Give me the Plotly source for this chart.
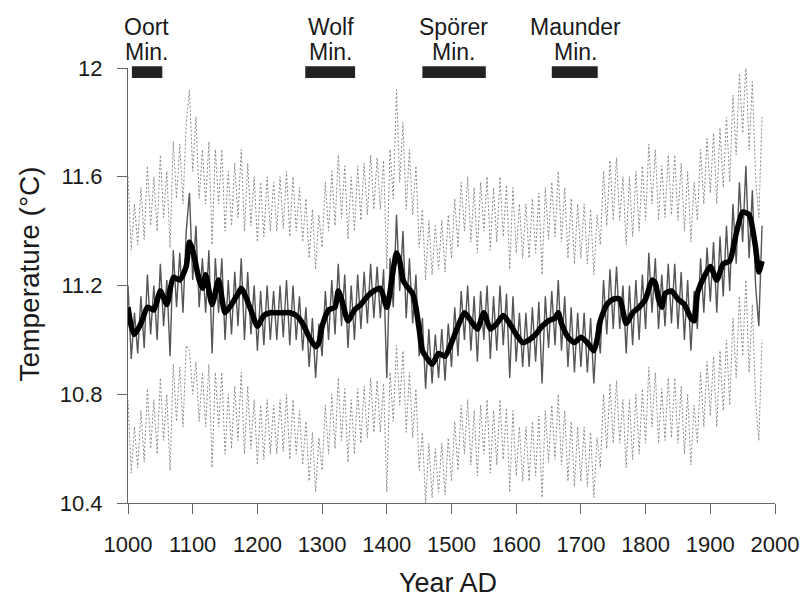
import plotly.graph_objects as go

# ---------------- data ----------------
# smoothed reconstruction (thick black line)
smooth_years = [1000, 1005, 1010, 1020, 1030, 1040, 1050, 1060, 1070, 1080, 1090, 1095,
                1100, 1110, 1115, 1120, 1130, 1140, 1150, 1160, 1170, 1175, 1180, 1190,
                1200, 1210, 1220, 1230, 1240, 1250, 1260, 1270, 1280, 1290, 1295,
                1300, 1310, 1320, 1325, 1330, 1340, 1350, 1360, 1370, 1380, 1390,
                1400, 1410, 1415, 1420, 1425, 1430, 1440, 1445, 1450, 1455, 1460, 1470, 1480, 1490,
                1500, 1510, 1520, 1530, 1540, 1550, 1560, 1570, 1580, 1590,
                1600, 1610, 1620, 1630, 1640, 1650, 1660, 1665, 1670, 1680, 1690,
                1700, 1710, 1720, 1725, 1730, 1740, 1750, 1760, 1770, 1780, 1790,
                1800, 1810, 1815, 1820, 1825, 1830, 1840, 1850, 1860, 1870, 1875, 1880, 1890,
                1900, 1910, 1920, 1930, 1940, 1950, 1960, 1970, 1975, 1980]
smooth_temp = [11.12, 11.05, 11.02, 11.06, 11.12, 11.11, 11.18, 11.13, 11.23, 11.22, 11.27, 11.36,
               11.33, 11.22, 11.19, 11.24, 11.13, 11.22, 11.10, 11.13, 11.17, 11.19, 11.17, 11.11,
               11.05, 11.09, 11.10, 11.10, 11.10, 11.10, 11.09, 11.06, 11.01, 10.975, 10.99,
               11.05, 11.11, 11.12, 11.18, 11.15, 11.07, 11.11, 11.13, 11.16, 11.18, 11.19,
               11.12, 11.26, 11.32, 11.29, 11.22, 11.20, 11.17, 11.12, 11.04, 10.96, 10.94, 10.91, 10.95, 10.94,
               10.99, 11.05, 11.10, 11.07, 11.04, 11.10, 11.04, 11.06, 11.09, 11.06,
               11.02, 10.99, 11.00, 11.02, 11.05, 11.07, 11.08, 11.10, 11.06, 11.01, 10.99,
               11.01, 10.99, 10.96, 11.00, 11.07, 11.13, 11.15, 11.15, 11.06, 11.10, 11.12,
               11.15, 11.22, 11.21, 11.15, 11.12, 11.17, 11.18, 11.15, 11.13, 11.08, 11.07, 11.17, 11.23,
               11.27, 11.22, 11.28, 11.29, 11.39, 11.47, 11.46, 11.34, 11.25, 11.29]

# high-frequency reconstruction (thin grey line) and its confidence bounds (dotted)
annual_years = list(range(1000, 1981, 5))
annual_temp = [
    11.20, 10.93, 11.10, 10.95, 11.16, 10.97, 11.24, 11.02, 11.20, 11.00,
    11.28, 11.05, 11.22, 10.94, 11.33, 11.12, 11.32, 11.10, 11.40, 11.54,
    11.22, 11.42, 11.12, 11.30, 11.10, 11.33, 10.95, 11.30, 11.10, 11.30,
    11.00, 11.22, 11.02, 11.25, 11.05, 11.30, 11.00, 11.25, 11.02, 11.20,
    10.96, 11.18, 10.98, 11.20, 11.00, 11.18, 11.00, 11.20, 11.01, 11.22,
    10.98, 11.20, 11.00, 11.16, 10.96, 11.12, 10.90, 11.08, 10.86, 11.06,
    10.94, 11.18, 11.00, 11.22, 11.02, 11.28, 11.05, 11.24, 10.97, 11.20,
    11.00, 11.24, 11.04, 11.25, 11.06, 11.28, 11.08, 11.27, 11.08, 11.26,
    10.86, 11.30, 11.12, 11.46, 11.18, 11.40, 11.08, 11.30, 11.06, 11.24,
    10.94, 11.08, 10.82, 11.04, 10.84, 11.02, 10.86, 11.04, 10.85, 11.06,
    10.90, 11.12, 10.94, 11.18, 11.00, 11.20, 10.96, 11.16, 10.92, 11.18,
    11.00, 11.20, 10.93, 11.16, 10.96, 11.20, 10.98, 11.17, 10.86, 11.16,
    10.92, 11.10, 10.90, 11.10, 10.90, 11.12, 10.92, 11.14, 10.84, 11.16,
    10.97, 11.18, 10.98, 11.22, 10.96, 11.16, 10.90, 11.12, 10.88, 11.10,
    10.90, 11.10, 10.88, 11.08, 10.84, 11.06, 10.95, 11.22, 11.02, 11.26,
    11.04, 11.27, 11.04, 11.20, 10.95, 11.20, 10.98, 11.22, 11.00, 11.24,
    11.04, 11.32, 11.10, 11.30, 11.04, 11.24, 11.05, 11.28, 11.06, 11.28,
    11.04, 11.25, 11.00, 11.22, 10.96, 11.18, 11.04, 11.30, 11.10, 11.34,
    11.14, 11.36, 11.10, 11.38, 11.16, 11.42, 11.18, 11.50, 11.28, 11.58,
    11.36, 11.64, 11.30, 11.55, 11.20, 11.05, 11.42]
upper_temp = [
    11.60, 11.33, 11.50, 11.35, 11.56, 11.37, 11.64, 11.42, 11.60, 11.40,
    11.68, 11.45, 11.62, 11.34, 11.73, 11.52, 11.72, 11.50, 11.80, 11.92,
    11.62, 11.82, 11.52, 11.70, 11.50, 11.73, 11.35, 11.70, 11.50, 11.70,
    11.40, 11.62, 11.42, 11.65, 11.45, 11.70, 11.40, 11.65, 11.42, 11.60,
    11.36, 11.58, 11.38, 11.60, 11.40, 11.58, 11.40, 11.60, 11.41, 11.62,
    11.38, 11.60, 11.40, 11.56, 11.36, 11.52, 11.30, 11.48, 11.26, 11.46,
    11.34, 11.58, 11.40, 11.62, 11.42, 11.68, 11.45, 11.64, 11.37, 11.60,
    11.40, 11.64, 11.44, 11.65, 11.46, 11.68, 11.48, 11.67, 11.48, 11.66,
    11.26, 11.70, 11.52, 11.92, 11.58, 11.80, 11.48, 11.70, 11.46, 11.64,
    11.34, 11.48, 11.22, 11.44, 11.24, 11.42, 11.26, 11.44, 11.25, 11.46,
    11.30, 11.52, 11.34, 11.58, 11.40, 11.60, 11.36, 11.56, 11.32, 11.58,
    11.40, 11.60, 11.33, 11.56, 11.36, 11.60, 11.38, 11.57, 11.26, 11.56,
    11.32, 11.50, 11.30, 11.50, 11.30, 11.52, 11.32, 11.54, 11.24, 11.56,
    11.37, 11.58, 11.38, 11.62, 11.36, 11.56, 11.30, 11.52, 11.28, 11.50,
    11.30, 11.50, 11.28, 11.48, 11.24, 11.46, 11.35, 11.62, 11.42, 11.66,
    11.44, 11.67, 11.44, 11.60, 11.35, 11.60, 11.38, 11.62, 11.40, 11.64,
    11.44, 11.72, 11.50, 11.70, 11.44, 11.64, 11.45, 11.68, 11.46, 11.68,
    11.44, 11.65, 11.40, 11.62, 11.36, 11.58, 11.44, 11.70, 11.50, 11.74,
    11.54, 11.76, 11.50, 11.78, 11.56, 11.82, 11.58, 11.90, 11.68, 11.98,
    11.76, 12.02, 11.70, 11.95, 11.60, 11.45, 11.82]
lower_temp = [
    10.78, 10.51, 10.68, 10.53, 10.74, 10.55, 10.82, 10.60, 10.78, 10.58,
    10.86, 10.63, 10.80, 10.52, 10.91, 10.70, 10.90, 10.68, 10.98, 10.96,
    10.80, 10.92, 10.70, 10.88, 10.68, 10.91, 10.53, 10.88, 10.68, 10.88,
    10.58, 10.80, 10.60, 10.83, 10.63, 10.88, 10.58, 10.83, 10.60, 10.78,
    10.54, 10.76, 10.56, 10.78, 10.58, 10.76, 10.58, 10.78, 10.59, 10.80,
    10.56, 10.78, 10.58, 10.74, 10.54, 10.70, 10.48, 10.66, 10.44, 10.64,
    10.52, 10.76, 10.58, 10.80, 10.60, 10.86, 10.63, 10.82, 10.55, 10.78,
    10.58, 10.82, 10.62, 10.83, 10.64, 10.86, 10.66, 10.85, 10.66, 10.84,
    10.44, 10.88, 10.70, 10.98, 10.76, 10.96, 10.66, 10.88, 10.64, 10.82,
    10.52, 10.66, 10.40, 10.62, 10.42, 10.60, 10.44, 10.62, 10.43, 10.64,
    10.48, 10.70, 10.52, 10.76, 10.58, 10.78, 10.54, 10.74, 10.50, 10.76,
    10.58, 10.78, 10.51, 10.74, 10.54, 10.78, 10.56, 10.75, 10.44, 10.74,
    10.50, 10.68, 10.48, 10.68, 10.48, 10.70, 10.50, 10.72, 10.42, 10.74,
    10.55, 10.76, 10.56, 10.80, 10.54, 10.74, 10.48, 10.70, 10.46, 10.68,
    10.48, 10.68, 10.46, 10.66, 10.42, 10.64, 10.53, 10.80, 10.60, 10.84,
    10.62, 10.85, 10.62, 10.78, 10.53, 10.78, 10.56, 10.80, 10.58, 10.82,
    10.62, 10.90, 10.68, 10.88, 10.62, 10.82, 10.63, 10.86, 10.64, 10.86,
    10.62, 10.83, 10.58, 10.80, 10.54, 10.76, 10.62, 10.88, 10.68, 10.92,
    10.72, 10.94, 10.68, 10.96, 10.74, 11.00, 10.76, 11.08, 10.86, 11.16,
    10.94, 11.22, 10.88, 11.13, 10.78, 10.63, 11.00]

# solar minima (bars at the top)
minima_names = ["Oort", "Wolf", "Spörer", "Maunder"]
minima_start = [1006, 1274, 1455, 1655]
minima_end = [1053, 1351, 1553, 1726]
minima_label_x = [1029, 1313, 1503, 1692]

x_ticks = [1000, 1100, 1200, 1300, 1400, 1500, 1600, 1700, 1800, 1900, 2000]
y_ticks = [10.4, 10.8, 11.2, 11.6, 12.0]
y_tick_text = ["10.4", "10.8", "11.2", "11.6", "12"]

# ---------------- figure ----------------
FONT = "Liberation Sans, Arial, Helvetica, sans-serif"
fig = go.Figure()

fig.add_trace(go.Scatter(x=annual_years, y=upper_temp, mode="lines",
                         line=dict(color="#8a8a8a", width=1, dash="2px,2px"),
                         hoverinfo="skip", showlegend=False))
fig.add_trace(go.Scatter(x=annual_years, y=lower_temp, mode="lines",
                         line=dict(color="#8a8a8a", width=1, dash="2px,2px"),
                         hoverinfo="skip", showlegend=False))
fig.add_trace(go.Scatter(x=annual_years, y=annual_temp, mode="lines",
                         line=dict(color="#555555", width=1.4),
                         showlegend=False))
fig.add_trace(go.Scatter(x=smooth_years, y=smooth_temp, mode="lines",
                         line=dict(color="#000000", width=5.5, shape="spline", smoothing=0.6),
                         showlegend=False))

shapes = []
annotations = []
for name, s, e, lx in zip(minima_names, minima_start, minima_end, minima_label_x):
    shapes.append(dict(type="rect", xref="x", yref="paper", x0=s, x1=e,
                       y0=0.977, y1=1.004, fillcolor="#222222", line=dict(width=0),
                       layer="above"))
    annotations.append(dict(text=name, x=lx, y=1.095, xref="x", yref="paper",
                            showarrow=False, xanchor="center", yanchor="middle",
                            font=dict(family=FONT, size=23, color="#1a1a1a")))
    annotations.append(dict(text="Min.", x=lx, y=1.037, xref="x", yref="paper",
                            showarrow=False, xanchor="center", yanchor="middle",
                            font=dict(family=FONT, size=23, color="#1a1a1a")))

annotations.append(dict(text="Year AD", x=0.4947, y=-0.184, xref="paper", yref="paper",
                        showarrow=False, xanchor="center", yanchor="middle",
                        font=dict(family=FONT, size=27, color="#1a1a1a")))
annotations.append(dict(text="Temperature (°C)", x=-0.1527, y=0.526, xref="paper", yref="paper",
                        showarrow=False, xanchor="center", yanchor="middle", textangle=-90,
                        font=dict(family=FONT, size=28, color="#1a1a1a")))

# the page adds an 8px body margin, so the figure is 8px smaller than the window
fig.update_layout(
    width=803, height=593,
    margin=dict(l=120, r=28, t=60, b=98),
    paper_bgcolor="white", plot_bgcolor="white",
    shapes=shapes, annotations=annotations,
    font=dict(family=FONT, color="#1a1a1a"),
    xaxis=dict(range=[1000, 2000], tickvals=x_ticks, showgrid=False, zeroline=False,
               showline=True, linecolor="#666666", linewidth=1,
               ticks="outside", ticklen=10, tickcolor="#666666", tickwidth=1,
               ticklabelstandoff=12,
               tickfont=dict(family=FONT, size=22, color="#1a1a1a")),
    yaxis=dict(range=[10.4, 12.0], tickvals=y_ticks, ticktext=y_tick_text,
               showgrid=False, zeroline=False,
               showline=True, linecolor="#666666", linewidth=1,
               ticks="outside", ticklen=10, tickcolor="#666666", tickwidth=1,
               ticklabelstandoff=10,
               tickfont=dict(family=FONT, size=22, color="#1a1a1a")),
)

fig.write_html("out.html")
